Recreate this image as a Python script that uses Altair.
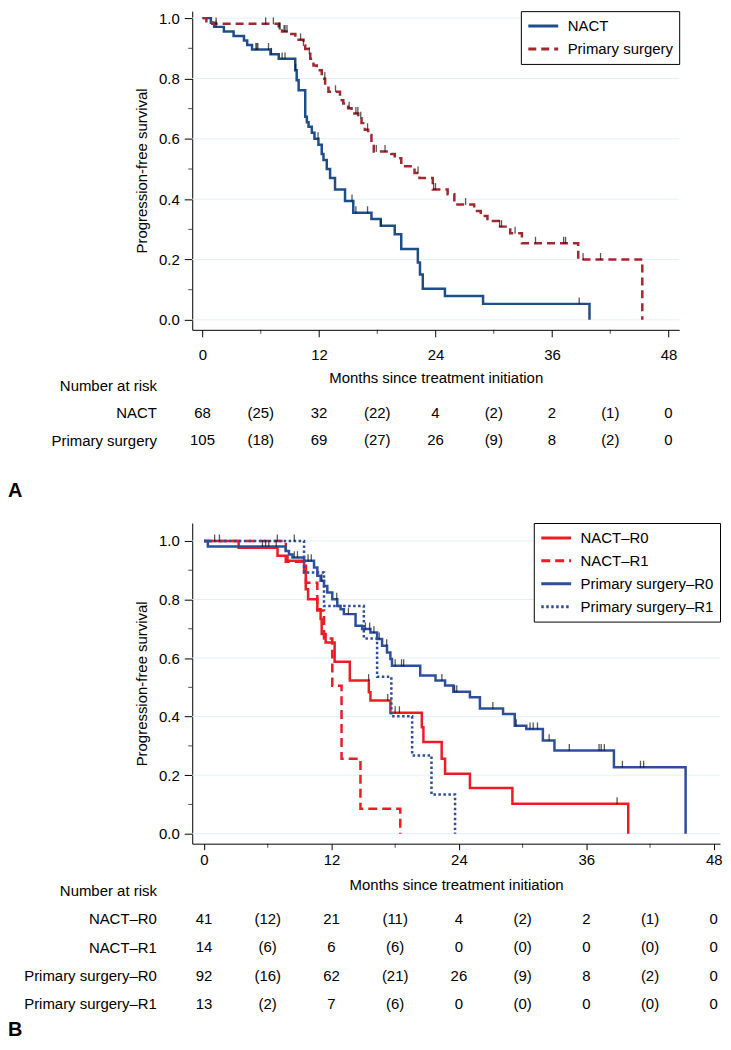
import altair as alt
import pandas as pd

FONT = "Liberation Sans"

# ---------------- Panel A data ----------------
A_GROUPS = ["NACT", "Primary surgery"]
A_COLORS = ["#1f4d88", "#a02830"]
A_DASHES = [[1, 0], [8, 5]]

A_NACT_T = [0, 0.86, 1.2, 2.2, 3.2, 4.27, 4.6, 5.1, 7.0, 7.85, 9.55, 9.7, 9.9, 10.58, 10.75,
            10.92, 11.26, 11.53, 11.94, 12.28, 12.46, 12.8, 13.14, 13.65, 14.68, 15.53, 17.4,
            18.36, 19.8, 20.47, 22.18, 22.4, 22.69, 24.97, 28.9, 39.86]
A_NACT_S = [1.0, 0.985, 0.971, 0.956, 0.941, 0.926, 0.911, 0.896, 0.880, 0.865, 0.827, 0.794,
            0.761, 0.673, 0.655, 0.640, 0.620, 0.600, 0.580, 0.550, 0.530, 0.500, 0.470, 0.432,
            0.394, 0.355, 0.334, 0.312, 0.284, 0.235, 0.190, 0.150, 0.103, 0.079, 0.053, 0.0]
A_PS_T = [0, 0.4, 1.0, 7.85, 8.19, 8.87, 9.56, 9.9, 10.4, 10.58, 10.92, 11.1, 11.43, 11.77,
          12.28, 12.63, 12.97, 14.16, 14.5, 15.0, 15.35, 16.04, 16.38, 16.72, 17.06, 17.4, 17.64,
          19.45, 19.8, 20.47, 21.84, 22.35, 23.72, 25.25, 25.94, 27.98, 28.66, 29.35, 30.5, 31.7,
          32.9, 38.7, 45.3]
A_PS_S = [1.0, 0.990, 0.981, 0.964, 0.956, 0.947, 0.936, 0.928, 0.909, 0.898, 0.882, 0.865,
          0.843, 0.827, 0.799, 0.777, 0.756, 0.728, 0.717, 0.701, 0.684, 0.668, 0.652, 0.630,
          0.613, 0.586, 0.558, 0.550, 0.536, 0.509, 0.487, 0.470, 0.432, 0.416, 0.382, 0.361,
          0.344, 0.328, 0.309, 0.287, 0.254, 0.200, 0.0]
A_NACT_CENS = [1.4, 5.5, 5.6, 5.7, 6.8, 7.1, 8.2, 8.5, 9.6, 11.9, 15.4, 15.8, 17.0, 18.4, 38.8]
A_PS_CENS = [1.4, 6.5, 7.3, 7.9, 8.0, 8.4, 8.5, 8.7, 10.1, 10.4, 11.0, 12.6, 13.7, 15.1, 15.8,
             16.0, 16.3, 17.0, 17.9, 18.8, 22.2, 23.8, 24.0, 27.1, 30.6, 30.8, 32.2, 34.3, 37.2,
             37.4, 39.2, 41.0]

RISK_TIMES = [0, 6, 12, 18, 24, 30, 36, 42, 48]
A_RISK_NACT = ["68", "(25)", "32", "(22)", "4", "(2)", "2", "(1)", "0"]
A_RISK_PS = ["105", "(18)", "69", "(27)", "26", "(9)", "8", "(2)", "0"]

# ---------------- Panel B data ----------------
B_GROUPS = ["NACT\u2013R0", "NACT\u2013R1", "Primary surgery\u2013R0", "Primary surgery\u2013R1"]
B_COLORS = ["#ec1c24", "#ec1c24", "#2c4e9f", "#2c4e9f"]
B_DASHES = [[1, 0], [9, 5], [1, 0], [2.5, 2.5]]

B_N0_T = [0, 3.26, 6.92, 7.86, 9.42, 9.58, 9.8, 10.67, 10.98, 11.08, 11.45, 12.3, 13.73, 15.52,
          15.67, 17.55, 20.51, 20.66, 22.38, 22.7, 25.04, 29.04, 39.95]
B_N0_S = [1.0, 0.977, 0.949, 0.932, 0.892, 0.835, 0.801, 0.767, 0.733, 0.682, 0.653, 0.587,
          0.523, 0.483, 0.455, 0.413, 0.364, 0.313, 0.256, 0.205, 0.156, 0.102, 0.0]
B_N1_T = [0, 7.7, 9.6, 10.67, 11.3, 12.08, 12.95, 14.73, 18.48]
B_N1_S = [1.0, 0.929, 0.857, 0.762, 0.667, 0.505, 0.256, 0.085, 0.0]
B_P0_T = [0, 0.36, 7.7, 8.0, 8.33, 9.42, 10.36, 10.67, 10.98, 11.3, 11.61, 12.08, 12.55, 12.86,
          13.17, 14.27, 14.89, 15.67, 16.3, 16.77, 17.23, 17.55, 17.7, 20.36, 21.8, 22.7, 23.48,
          25.04, 25.98, 28.16, 29.26, 30.35, 31.91, 33.0, 38.6, 45.35]
B_P0_S = [1.0, 0.981, 0.966, 0.954, 0.943, 0.932, 0.909, 0.881, 0.864, 0.846, 0.824, 0.801,
          0.778, 0.767, 0.750, 0.710, 0.699, 0.687, 0.665, 0.642, 0.619, 0.597, 0.574, 0.540,
          0.523, 0.506, 0.485, 0.466, 0.428, 0.409, 0.369, 0.358, 0.318, 0.284, 0.227, 0.0]
B_P1_T = [0, 9.42, 11.3, 15.05, 16.3, 17.64, 19.6, 21.42, 23.64]
B_P1_S = [1.0, 0.892, 0.778, 0.667, 0.536, 0.401, 0.267, 0.134, 0.0]

B_N0_CENS = [15.5, 17.3, 18.0, 18.4, 38.9]
B_N1_CENS = [1.0, 1.45]
B_P0_CENS = [5.5, 5.8, 6.1, 6.8, 8.5, 8.8, 9.8, 10.1, 11.1, 12.5, 13.6, 15.2, 15.6, 16.0, 16.5,
             17.2, 18.0, 18.6, 18.8, 22.4, 23.6, 23.8, 27.2, 29.4, 30.7, 31.0, 31.4, 32.5, 34.4,
             37.2, 37.4, 37.7, 39.4, 41.1, 41.4]
B_P1_CENS = [6.9, 8.5]

B_RISK_N0 = ["41", "(12)", "21", "(11)", "4", "(2)", "2", "(1)", "0"]
B_RISK_N1 = ["14", "(6)", "6", "(6)", "0", "(0)", "0", "(0)", "0"]
B_RISK_P0 = ["92", "(16)", "62", "(21)", "26", "(9)", "8", "(2)", "0"]
B_RISK_P1 = ["13", "(2)", "7", "(6)", "0", "(0)", "0", "(0)", "0"]

X_MAJOR = [0, 12, 24, 36, 48]
X_MINOR = [6, 18, 30, 42]
Y_MAJOR = [0.0, 0.2, 0.4, 0.6, 0.8, 1.0]
Y_MINOR = [0.1, 0.3, 0.5, 0.7, 0.9]
HEADER = "Number at risk"
PANEL_LABELS = ["A", "B"]
X_TITLE = "Months since treatment initiation"
Y_TITLE = "Progression-free survival"


def curves_df(groups, times, survs):
    rows = []
    for g, ts, ss in zip(groups, times, survs):
        for t, s in zip(ts, ss):
            rows.append({"group": g, "t": t, "s": s})
    return pd.DataFrame(rows)


def surv_at(ts, ss, c):
    val = ss[0]
    for t, s in zip(ts, ss):
        if t <= c:
            val = s
        else:
            break
    return val


def cens_df(groups, times, survs, cens):
    rows = []
    for g, ts, ss, cs in zip(groups, times, survs, cens):
        for c in cs:
            rows.append({"group": g, "t": c, "s": surv_at(ts, ss, c)})
    return pd.DataFrame(rows)


def km_plot(groups, colors, dashes, times, survs, cens, x_dom, y_dom, width, height,
            x_tick, x_lpad, x_tpad):
    xs = alt.Scale(domain=x_dom, nice=False, zero=False)
    ys = alt.Scale(domain=y_dom, nice=False, zero=False)
    x_axis = alt.Axis(values=X_MAJOR, tickSize=x_tick, labelPadding=x_lpad,
                      titlePadding=x_tpad, grid=False)
    y_axis = alt.Axis(values=Y_MAJOR, format=".1f", tickSize=8, labelPadding=5,
                      titlePadding=9, grid=False)
    legend = alt.Legend(title=None, orient="top-right", offset=0)

    grid = alt.Chart(pd.DataFrame({"g": Y_MAJOR})).mark_rule(
        color="#e2f0f5", strokeWidth=1
    ).encode(y=alt.Y("g:Q", scale=ys, axis=y_axis, title=Y_TITLE))

    lines = alt.Chart(curves_df(groups, times, survs)).mark_line(
        interpolate="step-after", strokeWidth=2.5
    ).encode(
        x=alt.X("t:Q", scale=xs, axis=x_axis, title=X_TITLE),
        y=alt.Y("s:Q", scale=ys, axis=y_axis, title=Y_TITLE),
        color=alt.Color("group:N", scale=alt.Scale(domain=groups, range=colors), legend=legend),
        strokeDash=alt.StrokeDash("group:N", scale=alt.Scale(domain=groups, range=dashes),
                                  legend=legend),
    )

    cticks = alt.Chart(cens_df(groups, times, survs, cens)).mark_tick(
        orient="vertical", size=7, thickness=1.3, color="#111111", yOffset=-3
    ).encode(
        x=alt.X("t:Q", scale=xs, axis=x_axis, title=X_TITLE),
        y=alt.Y("s:Q", scale=ys, axis=y_axis, title=Y_TITLE),
    )

    xminor = alt.Chart(pd.DataFrame({"m": X_MINOR})).mark_tick(
        orient="vertical", size=4, thickness=1, color="black"
    ).encode(x=alt.X("m:Q", scale=xs, axis=x_axis, title=X_TITLE), y=alt.value(height + 2))

    yminor = alt.Chart(pd.DataFrame({"m": Y_MINOR})).mark_tick(
        orient="horizontal", size=4, thickness=1, color="black"
    ).encode(y=alt.Y("m:Q", scale=ys, axis=y_axis, title=Y_TITLE), x=alt.value(-2))

    return alt.layer(grid, lines, cticks, xminor, yminor).properties(width=width, height=height)


def risk_table(names, values, x_dom, width, height, first_row, last_row, label, label_y):
    rows_domain = [HEADER] + names
    recs = []
    for nm, vals in zip(names, values):
        for t, v in zip(RISK_TIMES, vals):
            recs.append({"row": nm, "t": t, "v": v})
    df = pd.DataFrame(recs)
    xs = alt.Scale(domain=x_dom, nice=False, zero=False)
    txt = alt.Chart(df).mark_text(font=FONT, fontSize=15, color="black").encode(
        x=alt.X("t:Q", scale=xs, axis=None),
        y=alt.Y("row:N", sort=rows_domain,
                scale=alt.Scale(type="point", domain=rows_domain, range=[first_row, last_row],
                                padding=0),
                axis=alt.Axis(title=None, domain=False, ticks=False, tickSize=0,
                              labelPadding=36, labelLimit=0, labelFontSize=15)),
        text="v:N",
    )
    lab = alt.Chart(pd.DataFrame({"p": [label]})).mark_text(
        font=FONT, fontSize=20, fontWeight="bold", align="left", baseline="middle", color="black"
    ).encode(x=alt.value(-185), y=alt.value(label_y), text="p:N")
    return alt.layer(txt, lab).properties(width=width, height=height)


A_XDOM = [-1.06, 49.1]
B_XDOM = [-1.11, 48.59]

plotA = km_plot(A_GROUPS, A_COLORS, A_DASHES, [A_NACT_T, A_PS_T], [A_NACT_S, A_PS_S],
                [A_NACT_CENS, A_PS_CENS], A_XDOM, [-0.033, 1.0231], 489, 320, 7, 11, 8)
tableA = risk_table(A_GROUPS, [A_RISK_NACT, A_RISK_PS], A_XDOM, 489, 194, 56, 111,
                    PANEL_LABELS[0], 162)
plotB = km_plot(B_GROUPS, B_COLORS, B_DASHES, [B_N0_T, B_N1_T, B_P0_T, B_P1_T],
                [B_N0_S, B_N1_S, B_P0_S, B_P1_S], [B_N0_CENS, B_N1_CENS, B_P0_CENS, B_P1_CENS],
                B_XDOM, [-0.034, 1.0612], 530, 322, 6, 3, 10)
tableB = risk_table(B_GROUPS, [B_RISK_N0, B_RISK_N1, B_RISK_P0, B_RISK_P1], B_XDOM, 530, 197,
                    47, 161, PANEL_LABELS[1], 187)

chart = alt.vconcat(plotA, tableA, plotB, tableB, spacing=0, bounds="flush", padding=0
).resolve_scale(color="independent", strokeDash="independent"
).resolve_legend(color="independent", strokeDash="independent"
).configure_view(stroke=None).configure_axis(
    labelFont=FONT, titleFont=FONT, labelFontSize=15, titleFontSize=15, labelColor="black",
    titleColor="black", domainColor="black", tickColor="black", titleFontWeight="normal",
    domainWidth=1, tickWidth=1,
).configure_legend(
    strokeColor="black", fillColor="white", padding=6, symbolType="stroke", symbolSize=900,
    symbolStrokeWidth=3, labelFont=FONT, labelFontSize=15, labelColor="black", labelOffset=8,
    clipHeight=18, rowPadding=5, cornerRadius=0,
)

chart.save("out.html", embed_options={"renderer": "svg", "actions": False})
